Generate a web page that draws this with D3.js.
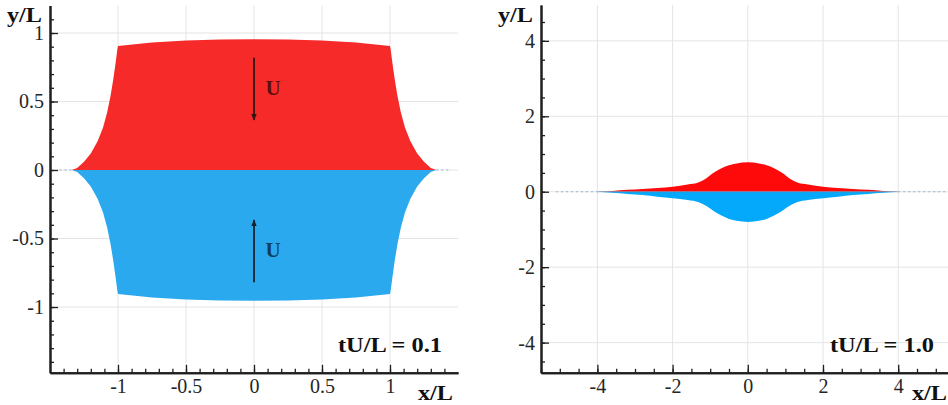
<!DOCTYPE html>
<html>
<head>
<meta charset="utf-8">
<script src="https://cdn.jsdelivr.net/npm/d3@7"></script>
<style>
  body { margin: 0; background: #fff; }
  svg { display: block; }
</style>
</head>
<body>
<svg id="chart" width="948" height="405"></svg>
<script>
// ---- Left panel (tU/L = 0.1): interface outline of the two colliding layers ----
const leftX = [-1.34, -1.30, -1.25, -1.20, -1.15, -1.11, -1.08, -1.055, -1.035, -1.018, -1.005, -1.0,
               -0.75, -0.5, -0.25, 0, 0.25, 0.5, 0.75,
               1.0, 1.005, 1.018, 1.035, 1.055, 1.08, 1.11, 1.15, 1.20, 1.25, 1.30, 1.34];
const leftUpper = [0, 0.015, 0.06, 0.12, 0.21, 0.31, 0.42, 0.54, 0.66, 0.78, 0.88, 0.905,
                   0.93, 0.945, 0.952, 0.955, 0.952, 0.945, 0.93,
                   0.905, 0.88, 0.78, 0.66, 0.54, 0.42, 0.31, 0.21, 0.12, 0.06, 0.015, 0];
const leftLower = [0, -0.015, -0.06, -0.12, -0.21, -0.31, -0.42, -0.54, -0.66, -0.78, -0.88, -0.905,
                   -0.93, -0.945, -0.952, -0.955, -0.952, -0.945, -0.93,
                   -0.905, -0.88, -0.78, -0.66, -0.54, -0.42, -0.31, -0.21, -0.12, -0.06, -0.015, 0];

// ---- Right panel (tU/L = 1.0) ----
const rightX = [-4.0, -3.6, -3.2, -2.8, -2.4, -2.0, -1.6, -1.3, -1.1, -0.9, -0.7, -0.5, -0.3, 0,
                0.3, 0.5, 0.7, 0.9, 1.1, 1.3, 1.6, 2.0, 2.4, 2.8, 3.2, 3.6, 4.0];
const rightUpper = [0, 0.02, 0.05, 0.075, 0.1, 0.13, 0.19, 0.25, 0.36, 0.51, 0.62, 0.70, 0.75, 0.78,
                    0.75, 0.70, 0.62, 0.51, 0.36, 0.25, 0.19, 0.13, 0.1, 0.075, 0.05, 0.02, 0];
const rightLower = [0, -0.03, -0.06, -0.09, -0.13, -0.17, -0.22, -0.28, -0.38, -0.52, -0.63, -0.72, -0.77, -0.8,
                    -0.77, -0.72, -0.63, -0.52, -0.38, -0.28, -0.22, -0.17, -0.13, -0.09, -0.06, -0.03, 0];

// ---- Tick values and labels ----
const leftXTicks = [-1, -0.5, 0, 0.5, 1];
const leftXTickLabels = ["-1", "-0.5", "0", "0.5", "1"];
const leftYTicks = [-1, -0.5, 0, 0.5, 1];
const leftYTickLabels = ["-1", "-0.5", "0", "0.5", "1"];
const rightXTicks = [-4, -2, 0, 2, 4];
const rightXTickLabels = ["-4", "-2", "0", "2", "4"];
const rightYTicks = [-4, -2, 0, 2, 4];
const rightYTickLabels = ["-4", "-2", "0", "2", "4"];

const timeLabels = ["tU/L = 0.1", "tU/L = 1.0"];

const serif = "'Liberation Serif','Times New Roman',Times,serif";
const svg = d3.select("#chart");

const defs = svg.append("defs");
defs.append("marker")
  .attr("id", "head")
  .attr("viewBox", "0 0 10 10")
  .attr("refX", 9).attr("refY", 5)
  .attr("markerWidth", 7).attr("markerHeight", 8)
  .attr("markerUnits", "userSpaceOnUse")
  .attr("orient", "auto")
  .append("path").attr("d", "M0,1 L10,5 L0,9 Z").attr("fill", "#151515");

function drawPanel(p) {
  const g = svg.append("g");
  const x = d3.scaleLinear().domain(p.xDomain).range(p.xRange);
  const y = d3.scaleLinear().domain(p.yDomain).range(p.yRange);
  const clipId = "clip" + p.id;
  defs.append("clipPath").attr("id", clipId)
    .append("rect").attr("x", p.xRange[0]).attr("y", p.yRange[1])
    .attr("width", p.xRange[1] - p.xRange[0]).attr("height", p.yRange[0] - p.yRange[1]);

  // light grid at major ticks
  const grid = g.append("g").attr("clip-path", `url(#${clipId})`);
  grid.selectAll(".gx").data(p.xTicks).join("line")
    .attr("x1", d => x(d)).attr("x2", d => x(d))
    .attr("y1", p.yRange[0]).attr("y2", p.yRange[1])
    .attr("stroke", "#e4e4e4").attr("stroke-width", 1);
  grid.selectAll(".gy").data(p.yTicks).join("line")
    .attr("y1", d => y(d)).attr("y2", d => y(d))
    .attr("x1", p.xRange[0]).attr("x2", p.xRange[1])
    .attr("stroke", "#e4e4e4").attr("stroke-width", 1);

  // dotted mesh line continuing along y = 0 beyond the layers
  p.tails.forEach(t => {
    grid.append("line")
      .attr("x1", x(t[0])).attr("x2", x(t[1]))
      .attr("y1", y(0)).attr("y2", y(0))
      .attr("stroke", "#8fb4d6").attr("stroke-width", 1.2)
      .attr("stroke-dasharray", "2,3");
  });

  const line = d3.line().x(d => x(d[0])).y(d => y(d[1])).curve(p.curve);
  const up = d3.zip(p.xs, p.upper);
  const lo = d3.zip(p.xs, p.lower);
  grid.append("path").attr("d", line(up) + "Z").attr("fill", p.red);
  grid.append("path").attr("d", line(lo) + "Z").attr("fill", p.blue);
  if (p.interface) {
    grid.append("line")
      .attr("x1", x(p.xs[0])).attr("x2", x(p.xs[p.xs.length - 1]))
      .attr("y1", y(0)).attr("y2", y(0))
      .attr("stroke", "#6f8fb3").attr("stroke-width", 0.8).attr("opacity", 0.8);
  }

  // minor ticks
  const minorX = d3.axisBottom(x).tickValues(p.xMinor).tickSizeInner(-4).tickSizeOuter(0).tickFormat("");
  const minorY = d3.axisLeft(y).tickValues(p.yMinor).tickSizeInner(-4).tickSizeOuter(0).tickFormat("");
  // major ticks with labels
  const majorX = d3.axisBottom(x).tickValues(p.xTicks).tickSizeInner(-8).tickSizeOuter(0)
    .tickPadding(6).tickFormat((d, i) => p.xLabels[i]);
  const majorY = d3.axisLeft(y).tickValues(p.yTicks).tickSizeInner(-8).tickSizeOuter(0)
    .tickPadding(6).tickFormat((d, i) => p.yLabels[i]);

  const axes = [
    [minorX, `translate(0,${p.yRange[0]})`],
    [minorY, `translate(${p.xRange[0]},0)`],
    [majorX, `translate(0,${p.yRange[0]})`],
    [majorY, `translate(${p.xRange[0]},0)`]
  ];
  axes.forEach(([ax, tr]) => {
    const a = g.append("g").attr("transform", tr).call(ax)
      .attr("font-family", serif).attr("font-size", 20);
    a.select(".domain").attr("stroke", "#1e1e1e").attr("stroke-width", 2);
    a.selectAll(".tick line").attr("stroke", "#1e1e1e").attr("stroke-width", 1.3);
    a.selectAll("text").style("font-family", serif).attr("font-size", 20).attr("fill", "#262626");
  });

  // axis titles and time stamp
  const addText = (txt, tx, ty, len) => {
    const t = g.append("text").attr("x", tx).attr("y", ty).text(txt)
      .style("font-family", serif).attr("font-size", 21)
      .attr("font-weight", "bold").attr("fill", "#111");
    if (len) t.attr("textLength", len).attr("lengthAdjust", "spacingAndGlyphs");
    return t;
  };
  addText("y/L", p.yTitle[0], p.yTitle[1], 35);
  addText("x/L", p.xTitle[0], p.xTitle[1], 35);
  addText(p.time, p.timePos[0], p.timePos[1], 104);

  return { g, x, y };
}

// Left panel
const L = drawPanel({
  id: "L",
  xDomain: [-1.5, 1.5], xRange: [50, 458],
  yDomain: [-1.48, 1.2], yRange: [372.8, 5.6],
  xs: leftX, upper: leftUpper, lower: leftLower,
  curve: d3.curveLinear,
  red: "#f72a2a", blue: "#2aa9ef",
  tails: [[-1.43, -1.34], [1.34, 1.43]],
  interface: false,
  xTicks: leftXTicks, xLabels: leftXTickLabels,
  yTicks: leftYTicks, yLabels: leftYTickLabels,
  xMinor: d3.range(-14, 15).map(d => d / 10),
  yMinor: d3.range(-14, 12).map(d => d / 10),
  yTitle: [7, 22], xTitle: [418, 400],
  time: timeLabels[0], timePos: [338, 352]
});

// Velocity arrows in the left panel
const arrows = [
  { x: 0, y0: 0.82, y1: 0.365, lx: 0.14, ly: 0.6 },
  { x: 0, y0: -0.82, y1: -0.365, lx: 0.14, ly: -0.58 }
];
arrows.forEach(a => {
  L.g.append("line")
    .attr("x1", L.x(a.x)).attr("x2", L.x(a.x))
    .attr("y1", L.y(a.y0)).attr("y2", L.y(a.y1))
    .attr("stroke", "#151515").attr("stroke-width", 1.8).attr("opacity", 0.9)
    .attr("marker-end", "url(#head)");
  L.g.append("text")
    .attr("x", L.x(a.lx)).attr("y", L.y(a.ly))
    .attr("dy", "0.35em").attr("text-anchor", "middle")
    .style("font-family", serif).attr("font-size", 21).attr("font-weight", "bold")
    .attr("fill", "#000").attr("opacity", 0.62)
    .text("U");
});

// Right panel
drawPanel({
  id: "R",
  xDomain: [-5.5, 5.5], xRange: [541, 954.6],
  yDomain: [-4.8, 4.95], yRange: [372.8, 5],
  xs: rightX, upper: rightUpper, lower: rightLower,
  curve: d3.curveMonotoneX,
  red: "#ff0a0a", blue: "#05a9fb",
  tails: [[-5.1, -4.0], [4.0, 5.3]],
  interface: true,
  xTicks: rightXTicks, xLabels: rightXTickLabels,
  yTicks: rightYTicks, yLabels: rightYTickLabels,
  xMinor: d3.range(-11, 11).map(d => d / 2),
  yMinor: d3.range(-9, 10).map(d => d / 2),
  yTitle: [498, 22], xTitle: [912, 400],
  time: timeLabels[1], timePos: [830, 352]
});
</script>
</body>
</html>
